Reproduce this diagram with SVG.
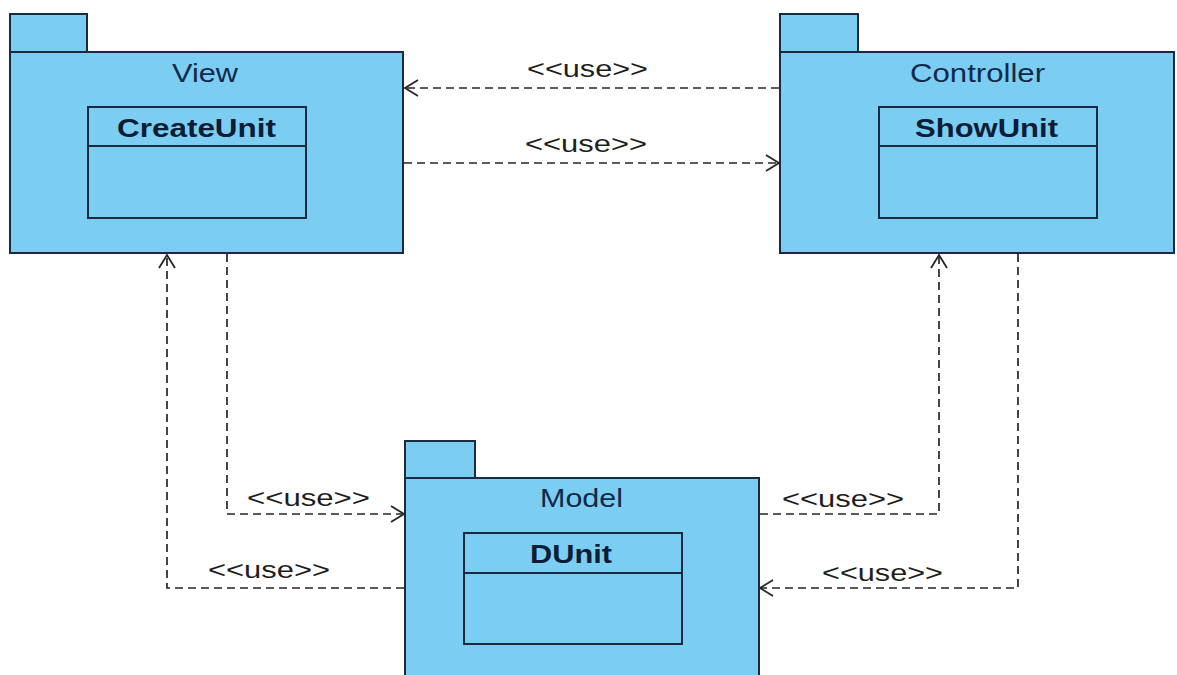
<svg xmlns="http://www.w3.org/2000/svg" width="1177" height="675" viewBox="0 0 1177 675">
  <style>
    .pkg { fill: #7bcdf2; stroke: #1a2a40; stroke-width: 2; }
    .cls { fill: #7bcdf2; stroke: #1a2a40; stroke-width: 2; }
    .divider { stroke: #1a2a40; stroke-width: 2; }
    .pkg-name { font-family: "Liberation Sans", Arial, sans-serif; font-size: 25px; fill: #13294a; text-anchor: middle; }
    .cls-name { font-family: "Liberation Sans", Arial, sans-serif; font-size: 25px; font-weight: bold; fill: #0d1d36; text-anchor: middle; }
    .dep { fill: none; stroke: #262626; stroke-width: 1.7; stroke-dasharray: 8 5; }
    .stereo { font-family: "Liberation Sans", Arial, sans-serif; font-size: 24.5px; fill: #1e1e1e; }
  </style>
  <defs>
    <marker id="open-arrow" markerUnits="userSpaceOnUse" markerWidth="28" markerHeight="28" refX="0" refY="0" viewBox="-16 -14 18 28" orient="auto">
      <path d="M -13 -8 L 0 0 L -13 8" fill="none" stroke="#262626" stroke-width="1.8" stroke-dasharray="none"/>
    </marker>
  </defs>

  <rect x="0" y="0" width="1177" height="675" fill="#ffffff"/>

  <!-- View package -->
  <g id="view">
    <rect class="pkg" x="10" y="14" width="77" height="38"/>
    <rect class="pkg" x="10" y="52" width="393" height="201"/>
    <text class="pkg-name" x="205" y="82" textLength="66" lengthAdjust="spacingAndGlyphs">View</text>
    <g id="createunit">
      <rect class="cls" x="88" y="107" width="218" height="111"/>
      <line class="divider" x1="88" y1="146" x2="306" y2="146"/>
      <text class="cls-name" x="196.5" y="137" textLength="159" lengthAdjust="spacingAndGlyphs">CreateUnit</text>
    </g>
  </g>

  <!-- Controller package -->
  <g id="controller">
    <rect class="pkg" x="780" y="14" width="78" height="38"/>
    <rect class="pkg" x="780" y="52" width="394" height="201"/>
    <text class="pkg-name" x="977.5" y="82" textLength="135" lengthAdjust="spacingAndGlyphs">Controller</text>
    <g id="showunit">
      <rect class="cls" x="879" y="107" width="218" height="111"/>
      <line class="divider" x1="879" y1="146" x2="1097" y2="146"/>
      <text class="cls-name" x="986.5" y="137" textLength="143" lengthAdjust="spacingAndGlyphs">ShowUnit</text>
    </g>
  </g>

  <!-- Model package -->
  <g id="model">
    <rect class="pkg" x="405" y="441" width="70" height="37"/>
    <rect class="pkg" x="405" y="478" width="354" height="220"/>
    <text class="pkg-name" x="581.5" y="507" textLength="83" lengthAdjust="spacingAndGlyphs">Model</text>
    <g id="dunit">
      <rect class="cls" x="464" y="533" width="218" height="111"/>
      <line class="divider" x1="464" y1="573" x2="682" y2="573"/>
      <text class="cls-name" x="571" y="563" textLength="82" lengthAdjust="spacingAndGlyphs">DUnit</text>
    </g>
  </g>

  <!-- «use» dependencies -->
  <g id="connectors">
    <path class="dep" d="M 779 88 L 405 88" marker-end="url(#open-arrow)"/>
    <path class="dep" d="M 404 163 L 779 163" marker-end="url(#open-arrow)"/>
    <path class="dep" d="M 404 588 L 167 588 L 167 255" marker-end="url(#open-arrow)"/>
    <path class="dep" d="M 227 254 L 227 514 L 404 514" marker-end="url(#open-arrow)"/>
    <path class="dep" d="M 760 514 L 939 514 L 939 255" marker-end="url(#open-arrow)"/>
    <path class="dep" d="M 1018 254 L 1018 588 L 760 588" marker-end="url(#open-arrow)"/>

    <text class="stereo" x="527" y="77" textLength="121" lengthAdjust="spacingAndGlyphs">&lt;&lt;use&gt;&gt;</text>
    <text class="stereo" x="525" y="152" textLength="122" lengthAdjust="spacingAndGlyphs">&lt;&lt;use&gt;&gt;</text>
    <text class="stereo" x="247" y="506" textLength="123" lengthAdjust="spacingAndGlyphs">&lt;&lt;use&gt;&gt;</text>
    <text class="stereo" x="208" y="578" textLength="122" lengthAdjust="spacingAndGlyphs">&lt;&lt;use&gt;&gt;</text>
    <text class="stereo" x="782" y="507" textLength="122" lengthAdjust="spacingAndGlyphs">&lt;&lt;use&gt;&gt;</text>
    <text class="stereo" x="822" y="581" textLength="121" lengthAdjust="spacingAndGlyphs">&lt;&lt;use&gt;&gt;</text>
  </g>
</svg>
